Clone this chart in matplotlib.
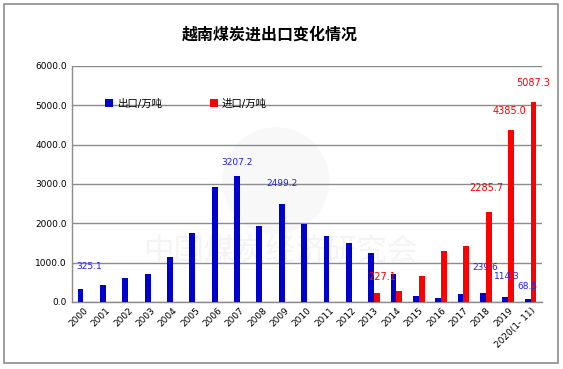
import numpy as np
import matplotlib.pyplot as plt
from matplotlib.patches import Rectangle, Ellipse

plt.rcParams['font.family'] = ['DejaVu Sans', 'Noto Sans CJK SC']

# -----------------------------
# Data (万吨)
# -----------------------------
years = ['2000', '2001', '2002', '2003', '2004', '2005', '2006', '2007', '2008', '2009',
         '2010', '2011', '2012', '2013', '2014', '2015', '2016', '2017', '2018', '2019',
         '2020(1- 11)']
exports = [325.1, 420, 600, 700, 1150, 1765, 2920, 3207.2, 1920, 2499.2,
           1970, 1690, 1510, 1250, 700, 150, 100, 215, 239.6, 114.3, 68.5]
imports = [0, 0, 0, 0, 0, 0, 0, 0, 0, 0,
           0, 0, 0, 227.1, 280, 665, 1305, 1430, 2285.7, 4385.0, 5087.3]

# labelled bars: index -> label offset in points (dx, dy)
export_labels = {0: (6, 13), 7: (0, 6), 9: (0, 11), 18: (1.5, 15), 19: (1, 12), 20: (0, 6)}
import_labels = {13: (4, 8), 18: (-2, 14), 19: (-1, 10), 20: (0, 10)}

blue = '#0000CC'
red = '#FF0000'

# -----------------------------
# Figure
# -----------------------------
fig = plt.figure(figsize=(5.63, 3.69), dpi=100)

# faint watermark (behind the axes)
fig.text(0.498, 0.32, '中国煤炭经济研究会', fontsize=22, color='#f4f4f4',
         ha='center', va='center', zorder=-2)
fig.patches.append(Ellipse((0.49, 0.51), 0.19, 0.19 * 563 / 369, transform=fig.transFigure,
                           facecolor='#f8f8f8', edgecolor='none', zorder=-3))

ax = fig.add_axes([0.1284, 0.1816, 0.8338, 0.6396])
ax.set_facecolor('none')

x = np.arange(len(years))
w = 0.26
ax.bar(x - w / 2, exports, w, color=blue, label='出口/万吨', zorder=3)
ax.bar(x + w / 2, imports, w, color=red, label='进口/万吨', zorder=3)

for i, (dx, dy) in export_labels.items():
    ax.annotate(f'{exports[i]:.1f}', (x[i] - w / 2, exports[i]), xytext=(dx, dy),
                textcoords='offset points', ha='center', va='bottom',
                fontsize=6.5, color='#2222EE', zorder=5)
for i, (dx, dy) in import_labels.items():
    ax.annotate(f'{imports[i]:.1f}', (x[i] + w / 2, imports[i]), xytext=(dx, dy),
                textcoords='offset points', ha='center', va='bottom',
                fontsize=7, color=red, zorder=5)

ax.set_xlim(-0.5, len(years) - 0.5)
ax.set_ylim(0, 6000)
ax.set_yticks(np.arange(0, 6001, 1000))
ax.set_yticklabels([f'{v:.1f}' for v in np.arange(0, 6001, 1000)], fontsize=6.5)
ax.set_xticks(x)
ax.set_xticklabels(years, rotation=45, ha='right', va='top', rotation_mode='anchor', fontsize=6.5)
ax.tick_params(axis='both', length=0, pad=4)
ax.tick_params(axis='x', pad=3)

ax.grid(axis='y', color='#8c8c8c', linewidth=1, zorder=1)
for s in ['top', 'right']:
    ax.spines[s].set_visible(False)
for s in ['left', 'bottom']:
    ax.spines[s].set_color('#8c8c8c')
    ax.spines[s].set_linewidth(1)

ax.legend(loc='upper left', bbox_to_anchor=(0.05, 0.9), ncol=2, frameon=False,
          fontsize=7.5, handlelength=0.8, handleheight=0.8, handletextpad=0.4,
          columnspacing=4.5)

# title and outer border
fig.text(0.48, 0.905, '越南煤炭进出口变化情况', fontsize=11.5, fontweight='bold',
         ha='center', va='center')
fig.patches.append(Rectangle((0.007, 0.016), 0.984, 0.973, transform=fig.transFigure,
                             fill=False, edgecolor='#8c8c8c', linewidth=1.2))

fig.savefig('out.png', dpi=100)
